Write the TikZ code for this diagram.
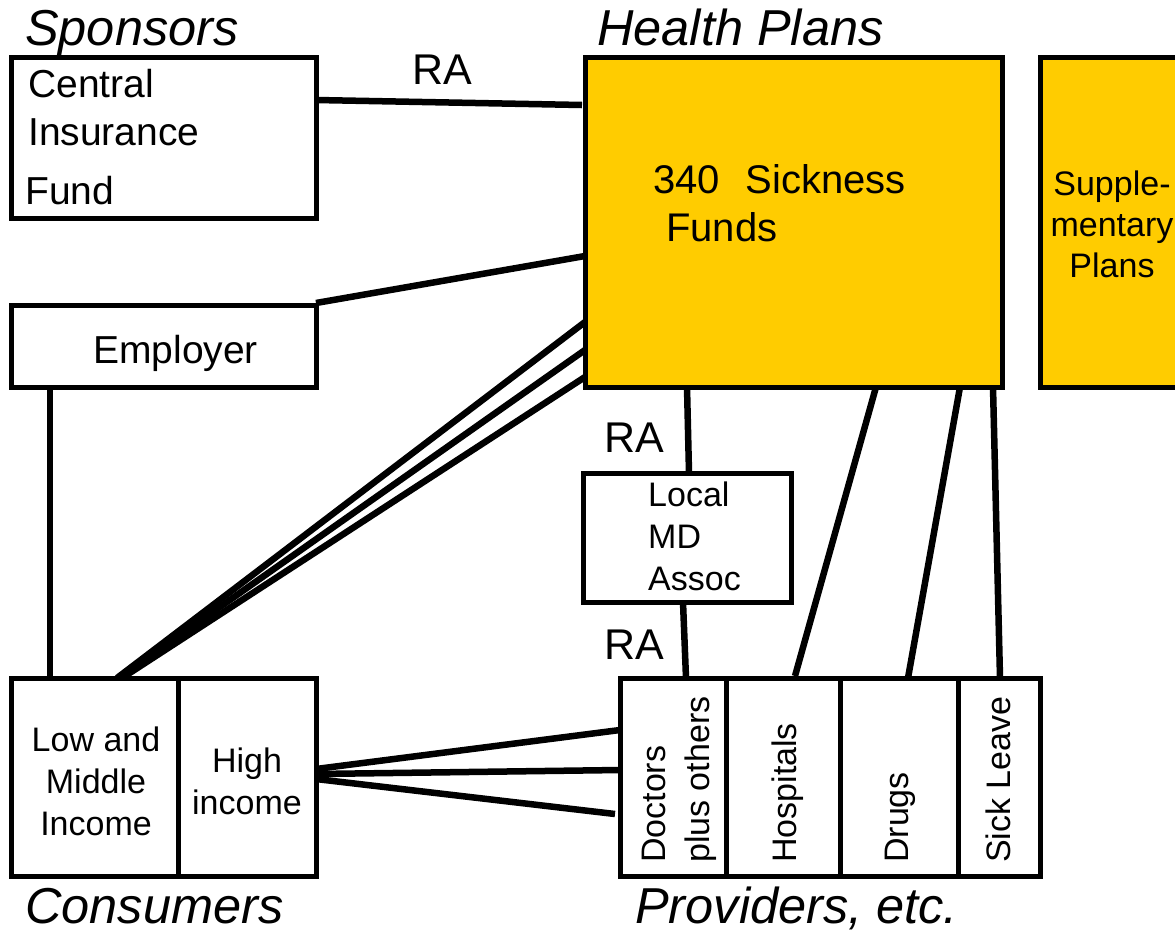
\documentclass[tikz,border=0pt]{standalone}
\usepackage{fontspec}
\setmainfont{Liberation Sans}
\usetikzlibrary{calc}
\definecolor{fundyellow}{HTML}{FFCC00}
\begin{document}
\begin{tikzpicture}[x=1pt,y=-1pt,
  box/.style={draw, line width=5pt, inner sep=0pt, outer sep=0pt, fill=white},
  ybox/.style={box, fill=fundyellow},
  conn/.style={line width=6.5pt},
  txt/.style={inner sep=0pt, anchor=base west},
  ctxt/.style={inner sep=0pt, align=center},
  head/.style={txt, font=\fontsize{50.5}{56}\selectfont\itshape},
  ralabel/.style={txt, font=\fontsize{43}{50}\selectfont},
  big/.style={font=\fontsize{39}{46}\selectfont},
  mid/.style={font=\fontsize{34}{42}\selectfont},
  rot/.style={rotate=90, anchor=west, inner sep=0pt, align=left, font=\fontsize{34}{44}\selectfont}]
\clip (0,0) rectangle (1175,935);
\fill[white] (0,0) rectangle (1175,935);

% boxes
\node[box, minimum width=305, minimum height=161] (cif) at (163.5,137.5) {};
\node[ybox, minimum width=417, minimum height=330] (sf) at (793.5,222) {};
\node[ybox, minimum width=160, minimum height=330] (supp) at (1120,222) {};
\node[box, minimum width=305, minimum height=82] (emp) at (163.5,346) {};
\node[box, minimum width=208, minimum height=129] (lmd) at (687,537.5) {};
\node[box, minimum width=167, minimum height=198] (lmi) at (94.5,777) {};
\node[box, minimum width=138, minimum height=198] (hi) at (247,777) {};
\node[box, minimum width=106, minimum height=198] (doc) at (673,777) {};
\node[box, minimum width=114, minimum height=198] (hosp) at (783,777) {};
\node[box, minimum width=118, minimum height=198] (drugs) at (899,777) {};
\node[box, minimum width=82, minimum height=198] (sick) at (999,777) {};

% headings
\node[head] (hspons) at (25,45) {Sponsors};
\node[head] (hplans) at (597,45) {Health Plans};
\node[head] (hcons) at (25,923) {Consumers};
\node[head] (hprov) at (635,923) {Providers, etc.};

% RA labels
\node[ralabel] (ra1) at (412,84) {RA};
\node[ralabel] (ra2) at (604,452) {RA};
\node[ralabel] (ra3) at (604,659) {RA};

% box texts
\node[txt, big] (t1) at (28,97) {Central};
\node[txt, big] (t2) at (28,145) {Insurance};
\node[txt, big] (t3) at (25,204) {Fund};
\node[txt, font=\fontsize{40}{48}\selectfont] (t4) at (653,193) {340\hspace{0.65em}Sickness};
\node[txt, font=\fontsize{40}{48}\selectfont] (t5) at (666,241) {Funds};
\node[ctxt, font=\fontsize{34}{41}\selectfont, anchor=base] (t6) at (1112,277) {Supple-\\mentary\\Plans};
\node[txt, big] (t7) at (93,363) {Employer};
\node[txt, mid] (t8) at (648,506) {Local};
\node[txt, mid] (t9) at (648,548) {MD};
\node[txt, mid] (t10) at (648,590) {Assoc};
\node[ctxt, mid, anchor=base] (t11) at (96,835) {Low and\\Middle\\Income};
\node[ctxt, mid, anchor=base] (t12) at (247,814) {High\\income};
\node[rot] (t13) at (679,863) {Doctors\\plus others};
\node[rot] (t14) at (788,863) {Hospitals};
\node[rot] (t15) at (900,863) {Drugs};
\node[rot] (t16) at (998.5,863) {Sick Leave};

% connectors
\draw[conn] ($(cif.north east)+(0,43)$) -- ($(sf.north west)+(-3,48)$);
\draw[conn] ($(emp.north east)+(0,-2)$) -- ($(sf.north west)+(0,199)$);
\draw[conn] ($(emp.south west)+(39,0)$) -- ($(lmi.north west)+(39,0)$);
\draw[conn] ($(lmi.north west)+(106,0)$) -- ($(sf.north west)+(0,265)$);
\draw[conn] ($(lmi.north west)+(108,0)$) -- ($(sf.north west)+(0,293)$);
\draw[conn] ($(lmi.north west)+(111,0)$) -- ($(sf.north west)+(0,320)$);
\draw[conn] ($(hi.east)+(0,-8)$) -- ($(doc.west)+(0,-47)$);
\draw[conn] ($(hi.east)+(0,-3)$) -- ($(doc.west)+(0,-7)$);
\draw[conn] ($(hi.east)+(0,2)$) -- ($(doc.west)+(-5,37)$);
\draw[conn] ($(sf.south west)+(102,0)$) -- ($(lmd.north west)+(106,0)$);
\draw[conn] ($(lmd.south west)+(100,0)$) -- ($(doc.north west)+(66,0)$);
\draw[conn] ($(sf.south west)+(291,0)$) -- ($(hosp.north west)+(69,-2)$);
\draw[conn] ($(sf.south west)+(375,0)$) -- ($(drugs.north west)+(68,0)$);
\draw[conn] ($(sf.south west)+(408,0)$) -- ($(sick.north west)+(42,0)$);
\end{tikzpicture}
\end{document}
